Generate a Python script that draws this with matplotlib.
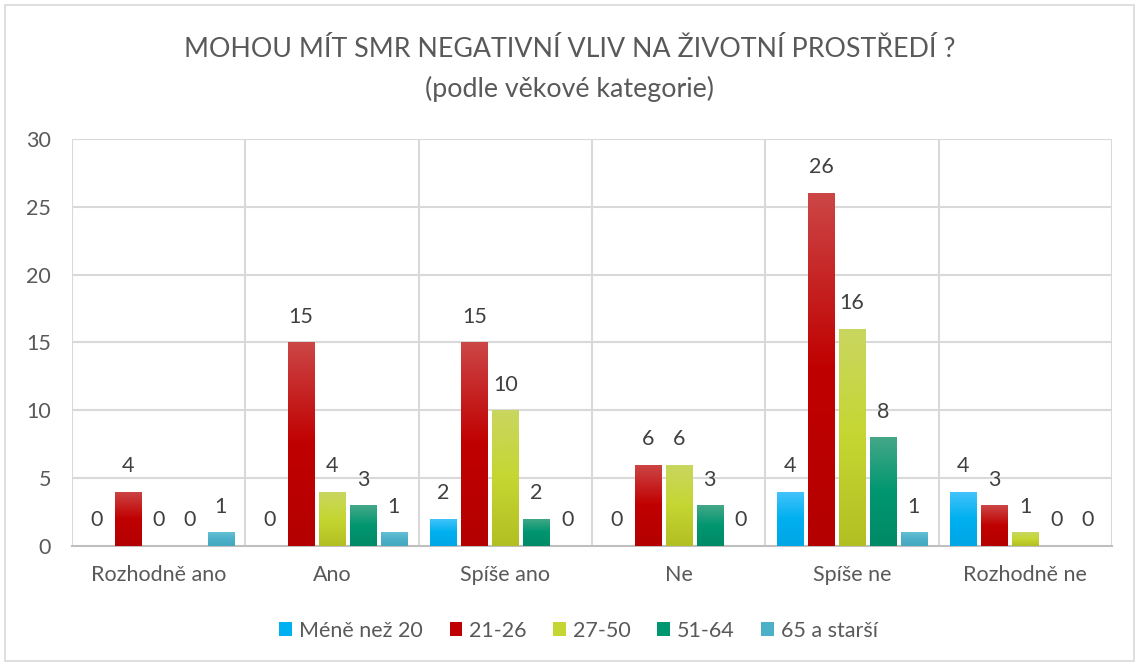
import numpy as np
import matplotlib
matplotlib.use('Agg')
import matplotlib.pyplot as plt
from matplotlib.colors import LinearSegmentedColormap
from matplotlib.patches import Rectangle

plt.rcParams['font.family'] = ['Lato', 'DejaVu Sans']

categories = ['Rozhodně ano', 'Ano', 'Spíše ano', 'Ne', 'Spíše ne', 'Rozhodně ne']
series_names = ['Méně než 20', '21-26', '27-50', '51-64', '65 a starší']
mene_20 = [0, 0, 2, 0, 4, 4]
v21_26 = [4, 15, 15, 6, 26, 3]
v27_50 = [0, 4, 10, 6, 16, 1]
v51_64 = [0, 3, 2, 3, 8, 0]
v65 = [1, 1, 0, 0, 1, 0]
values = [mene_20, v21_26, v27_50, v51_64, v65]

# bottom, middle, top colours of the gradient
grads = [
	('#00a6e6', '#00b0f0', '#45c4fb'),
	('#b40000', '#c00000', '#cc4646'),
	('#b2bf22', '#c5d632', '#c9d660'),
	('#008a66', '#009670', '#45a888'),
	('#44a8c0', '#4bb0c8', '#66c0d4'),
]

fig = plt.figure(figsize=(11.39, 6.64), dpi=100)
fig.patches.append(Rectangle((0.004, 0.004), 0.992, 0.989, transform=fig.transFigure,
	fill=False, edgecolor='#d9d9d9', lw=1.2))
ax = fig.add_axes([0.0632, 0.1777, 0.9131, 0.6130])

x = np.arange(len(categories))
step = 0.1787
width = 0.15
grad = np.linspace(0, 1, 256).reshape(-1, 1)

for i, (name, vals) in enumerate(zip(series_names, values)):
	xs = x + (i - 2) * step
	bars = ax.bar(xs, vals, width, color=grads[i][1], label=name, zorder=3)
	cmap = LinearSegmentedColormap.from_list('g%d' % i,
		[(0, grads[i][0]), (0.5, grads[i][1]), (1, grads[i][2])])
	for b, v in zip(bars, vals):
		if v > 0:
			im = ax.imshow(grad, cmap=cmap, origin='lower', aspect='auto', zorder=4,
				extent=[b.get_x(), b.get_x() + b.get_width(), 0, v])
			im.set_clip_path(b)
		ax.text(b.get_x() + b.get_width() / 2, v + 1.9, str(v), ha='center',
			va='center', fontsize=15.5, color='#404040', zorder=5)

ax.set_xlim(-0.5, len(categories) - 0.5)
ax.set_ylim(0, 30)
ax.set_yticks(range(0, 31, 5))
ax.set_xticks(x)
ax.set_xticklabels(categories)
ax.tick_params(axis='both', length=0, labelsize=15.5, labelcolor='#595959')
ax.tick_params(axis='y', pad=15)
ax.tick_params(axis='x', pad=14)
for y in range(5, 31, 5):
	ax.axhline(y, color='#d9d9d9', lw=1.5, zorder=1)
for xb in np.arange(-0.5, len(categories), 1.0):
	ax.axvline(xb, color='#d9d9d9', lw=1.5, zorder=1)
for s in ['top', 'right', 'left']:
	ax.spines[s].set_visible(False)
ax.spines['bottom'].set_color('#bfbfbf')
ax.spines['bottom'].set_linewidth(1.5)

fig.text(0.5, 0.926, 'MOHOU MÍT SMR NEGATIVNÍ VLIV NA ŽIVOTNÍ PROSTŘEDÍ ?', ha='center',
	va='center', fontsize=19.3, color='#595959')
fig.text(0.5, 0.866, '(podle věkové kategorie)', ha='center', va='center',
	fontsize=19.3, color='#595959')

leg = fig.legend(loc='center', bbox_to_anchor=(0.508, 0.05), ncol=5, frameon=False,
	fontsize=15.5, handlelength=0.6, handleheight=0.6, handletextpad=0.3, columnspacing=1.25)
for t in leg.get_texts():
	t.set_color('#595959')

fig.savefig('out.png', dpi=100)
